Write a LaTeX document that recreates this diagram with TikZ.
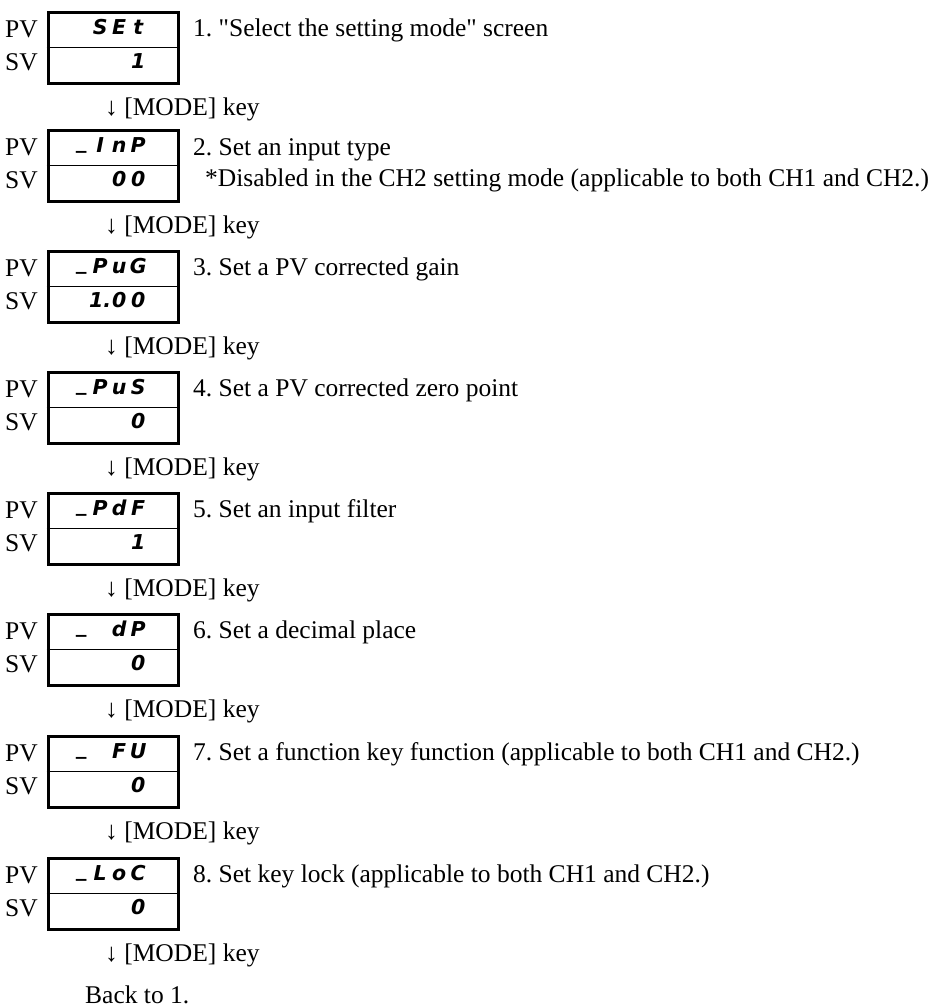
\documentclass[tikz,border=0pt]{standalone}
\usepackage{fontspec}
\setmainfont{Liberation Serif}
\newfontfamily\segfont{DejaVu Sans}
\newcommand\dg[1]{\makebox[19pt][c]{#1}}
\newcommand\us{\raisebox{4pt}{\_}}
\tikzset{
  txt/.style={font=\fontsize{25.5pt}{30pt}\selectfont\frenchspacing, inner sep=0pt, anchor=base west},
  seg/.style={font=\fontsize{20.5pt}{24pt}\segfont\bfseries\itshape, inner sep=0pt, anchor=base west},
  dispbox/.style={draw, line width=3pt, minimum width=130pt, minimum height=71pt, inner sep=0pt},
  divider/.style={line width=1.6pt}
}
\begin{document}
\begin{tikzpicture}[x=1pt,y=-1pt]
\useasboundingbox (0,0) rectangle (940,1007);
\foreach \k/\t/\pv/\sv in {
  1/12/{\dg{}\dg{S}\dg{E}\dg{t}}/{\dg{}\dg{}\dg{}\dg{1}},
  2/130/{\dg{\us}\dg{I}\dg{n}\dg{P}}/{\dg{}\dg{}\dg{0}\dg{0}},
  3/251/{\dg{\us}\dg{P}\dg{u}\dg{G}}/{\dg{}\dg{1.}\dg{0}\dg{0}},
  4/372/{\dg{\us}\dg{P}\dg{u}\dg{S}}/{\dg{}\dg{}\dg{}\dg{0}},
  5/493/{\dg{\us}\dg{P}\dg{d}\dg{F}}/{\dg{}\dg{}\dg{}\dg{1}},
  6/614/{\dg{\us}\dg{}\dg{d}\dg{P}}/{\dg{}\dg{}\dg{}\dg{0}},
  7/736/{\dg{\us}\dg{}\dg{F}\dg{U}}/{\dg{}\dg{}\dg{}\dg{0}},
  8/858/{\dg{\us}\dg{L}\dg{o}\dg{C}}/{\dg{}\dg{}\dg{}\dg{0}}}{
  \node[dispbox] (b\k) at (113,\t+35.5) {};
  \draw[divider] (b\k.west) -- (b\k.east);
  \node[txt] (pv\k) at (5,\t+25) {PV};
  \node[txt] (sv\k) at (5,\t+58) {SV};
  \node[seg] (pd\k) at (71.5,\t+22.5) {\pv};
  \node[seg] (sd\k) at (71.5,\t+56.5) {\sv};
  \node[txt] (m\k) at (105,\t+103) {↓ [MODE] key};
}
\node[txt] (d1) at (193,36) {1. \textquotedbl Select the setting mode\textquotedbl{} screen};
\node[txt] (d2) at (193,155) {2. Set an input type};
\node[txt] (d2b) at (205,186) {*Disabled in the CH2 setting mode (applicable to both CH1 and CH2.)};
\node[txt] (d3) at (193,275) {3. Set a PV corrected gain};
\node[txt] (d4) at (193,396) {4. Set a PV corrected zero point};
\node[txt] (d5) at (193,517) {5. Set an input filter};
\node[txt] (d6) at (193,638) {6. Set a decimal place};
\node[txt] (d7) at (193,760) {7. Set a function key function (applicable to both CH1 and CH2.)};
\node[txt] (d8) at (193,882) {8. Set key lock (applicable to both CH1 and CH2.)};
\node[txt] (back) at (85,1003) {Back to 1.};
\end{tikzpicture}
\end{document}
